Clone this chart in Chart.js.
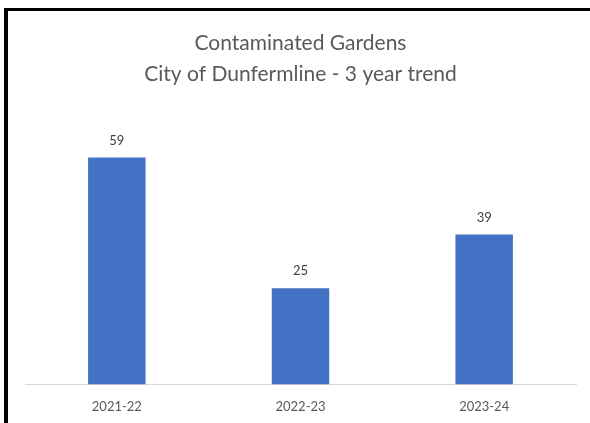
<!DOCTYPE html>
<html>
<head>
<meta charset="utf-8">
<script src="https://cdn.jsdelivr.net/npm/chart.js@4.4.0/dist/chart.umd.min.js"></script>
<style>
  body { margin: 0; background: #fff; }
  #wrap { position: relative; width: 590px; height: 423px; overflow: hidden; }
  #frame { position: absolute; left: 4px; top: 8px; width: 600px; height: 430px;
           border-left: 4px solid #000; border-top: 3px solid #000; pointer-events: none; }
  canvas { position: absolute; left: 0; top: 0; }
</style>
</head>
<body>
<div id="wrap">
  <canvas id="gardensChart" width="590" height="423"></canvas>
  <div id="frame"></div>
</div>
<script>
const categories = ['2021-22', '2022-23', '2023-24'];
const gardens = [59, 25, 39];
const titleLines = ['Contaminated Gardens', 'City of Dunfermline - 3 year trend'];

// etiquetas encima de cada barra
const barLabels = {
    id: 'barLabels',
    afterDatasetsDraw(chart) {
        const ctx = chart.ctx;
        ctx.save();
        ctx.font = '13px Lato';
        ctx.fillStyle = '#404040';
        ctx.textAlign = 'center';
        ctx.textBaseline = 'middle';
        chart.getDatasetMeta(0).data.forEach(function(bar, i) {
            ctx.fillText(gardens[i], bar.x, bar.y - 17);
        });
        ctx.restore();
    }
};

const ctx = document.getElementById('gardensChart').getContext('2d');
const chart = new Chart(ctx, {
    type: 'bar',
    data: {
        labels: categories,
        datasets: [{
            label: 'Contaminated Gardens',
            data: gardens,
            backgroundColor: '#4472C4',
            borderWidth: 0,
            categoryPercentage: 1,
            barPercentage: 0.313
        }]
    },
    options: {
        responsive: false,
        animation: false,
        layout: { padding: { top: 18, left: 25, right: 14, bottom: 1 } },
        plugins: {
            legend: { display: false },
            tooltip: { enabled: false },
            title: {
                display: true,
                text: titleLines,
                color: '#595959',
                font: { family: 'Lato', size: 21, weight: 'normal', lineHeight: 1.48 },
                padding: { top: 10, bottom: 25 }
            }
        },
        scales: {
            x: {
                grid: { display: false },
                border: { display: true, color: '#d9d9d9', width: 1 },
                ticks: { color: '#595959', font: { family: 'Lato', size: 13 }, padding: 7 }
            },
            y: {
                display: false,
                min: 0,
                max: 70
            }
        }
    },
    plugins: [barLabels]
});
</script>
</body>
</html>
